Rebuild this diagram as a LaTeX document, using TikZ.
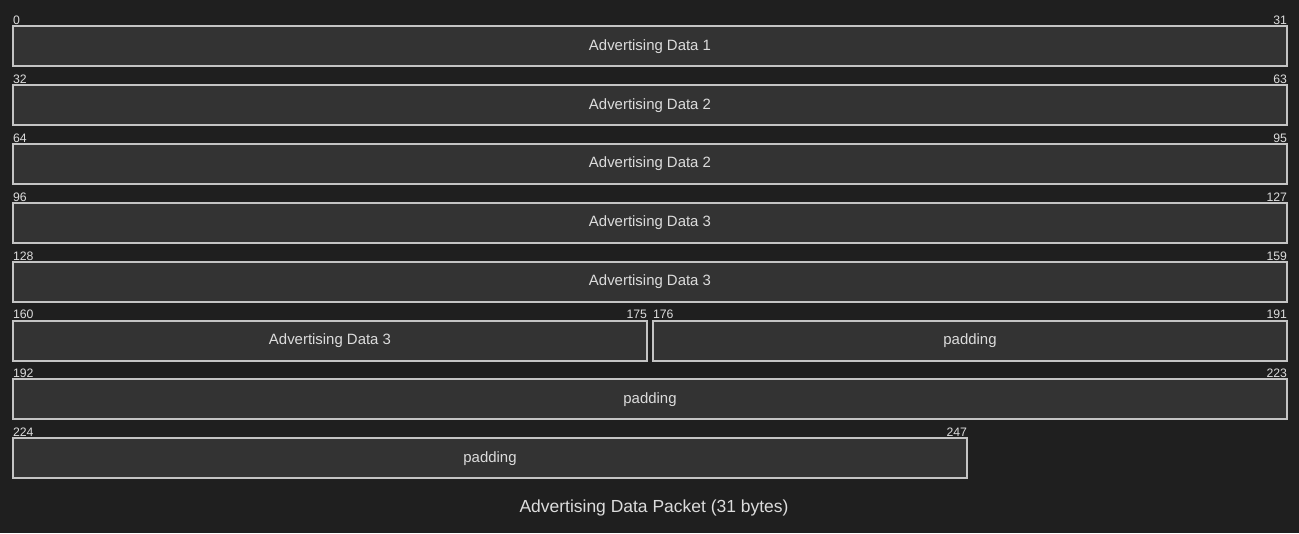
\documentclass[tikz,border=0pt]{standalone}
\usepackage{fontspec}
\setmainfont{Liberation Sans}
\definecolor{bg}{HTML}{1F1F1F}
\definecolor{boxfill}{HTML}{333333}
\definecolor{boxline}{HTML}{C4C4C4}
\definecolor{txt}{HTML}{DCDCDC}
\tikzset{
  fieldbox/.style={draw=boxline, fill=boxfill, line width=1.5pt, outer sep=0pt, inner sep=0pt,
    minimum height=30pt, text=txt, font=\fontsize{11.2}{13}\selectfont},
  bitnum/.style={inner sep=0pt, outer sep=0pt, text=txt, font=\fontsize{9.2}{11}\selectfont},
  caption/.style={inner sep=0pt, text=txt, font=\fontsize{13.1}{15}\selectfont}
}
\newcommand\field[7]{%
  \pgfmathsetmacro\fcx{10+20*(#3+#4+1)}%
  \pgfmathsetmacro\fcy{46.3+#2*58.857}%
  \pgfmathsetmacro\fwd{(40*(#4-#3+1)-6)*0.75}%
  \node[fieldbox, minimum width=\fwd pt] (#1) at (\fcx,\fcy) {\raisebox{-1.3pt}{#5}};
  \node[bitnum, anchor=base west] (#1s) at ([yshift=1.3pt]#1.north west) {#6};
  \node[bitnum, anchor=base east] (#1e) at ([yshift=1.3pt]#1.north east) {#7};
}
\begin{document}
\begin{tikzpicture}[x=0.75pt,y=-0.75pt]
\fill[bg] (0,0) rectangle (1299,533);
\useasboundingbox (0,0) rectangle (1299,533);
\field{f1}{0}{0}{31}{Advertising Data 1}{0}{31}
\field{f2}{1}{0}{31}{Advertising Data 2}{32}{63}
\field{f3}{2}{0}{31}{Advertising Data 2}{64}{95}
\field{f4}{3}{0}{31}{Advertising Data 3}{96}{127}
\field{f5}{4}{0}{31}{Advertising Data 3}{128}{159}
\field{f6}{5}{0}{15}{Advertising Data 3}{160}{175}
\field{f7}{5}{16}{31}{padding}{176}{191}
\field{f8}{6}{0}{31}{padding}{192}{223}
\field{f9}{7}{0}{23}{padding}{224}{247}
\node[caption] (cap) at (654,508) {Advertising Data Packet (31 bytes)};
\end{tikzpicture}
\end{document}
